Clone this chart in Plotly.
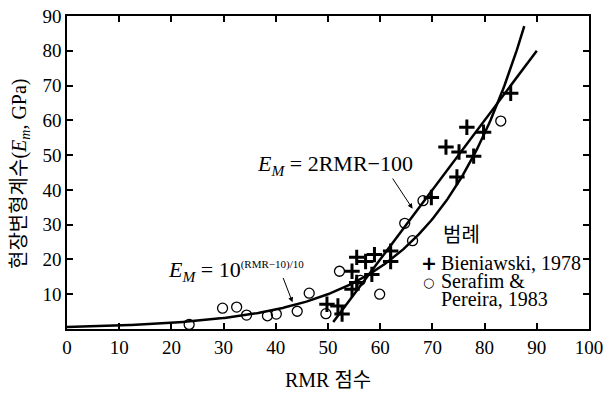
import numpy as np
import plotly.graph_objects as go

# --- data ---
bien_rmr = [49.8, 51.9, 52.7, 54.6, 54.6, 55.5, 55.5, 57.2, 58.4, 58.9, 62.0, 62.0,
            69.8, 72.6, 74.7, 75.1, 76.6, 77.9, 79.8, 85.0]
bien_em = [7.1, 6.6, 4.3, 11.4, 16.6, 13.4, 20.6, 19.4, 15.7, 21.4, 19.4, 22.4,
           37.8, 52.3, 43.7, 50.9, 58.0, 49.7, 56.6, 67.8]

sera_rmr = [23.4, 29.8, 32.5, 34.4, 38.4, 40.1, 44.1, 46.4, 49.6, 52.2, 56.2, 59.9,
            64.7, 66.2, 68.2, 83.1]
sera_em = [1.3, 6.0, 6.3, 4.0, 3.8, 4.3, 5.1, 10.3, 4.4, 16.6, 14.0, 10.0,
           30.4, 25.4, 36.9, 59.8]

# fitted relations shown on the chart
exp_rmr = np.linspace(0, 87.6, 300)
exp_em = 10 ** ((exp_rmr - 10) / 40)
lin_rmr = np.array([51.0, 90.0])
lin_em = 2 * lin_rmr - 100

x_ticks = list(range(0, 101, 10))
y_ticks = list(range(10, 91, 10))

legend_title = "범례"
legend_labels = ["Bieniawski, 1978", "Serafim &", "Pereira, 1983"]

FONT = "Liberation Serif, Noto Sans CJK KR, serif"
BLACK = "black"

# plot-area geometry in pixels (for paper-anchored text)
L, R, T, B = 67, 16, 16, 68
W, H = 605, 397
PW, PH = W - L - R, H - T - B


def px(xp, yp):
    return (xp - L) / PW, (H - B - yp) / PH


fig = go.Figure()
fig.add_trace(go.Scatter(x=exp_rmr, y=exp_em, mode="lines",
                         line=dict(color=BLACK, width=2.5), showlegend=False,
                         hoverinfo="skip"))
fig.add_trace(go.Scatter(x=lin_rmr, y=lin_em, mode="lines",
                         line=dict(color=BLACK, width=2.5), showlegend=False,
                         hoverinfo="skip"))
fig.add_trace(go.Scatter(x=bien_rmr, y=bien_em, mode="markers",
                         name="Bieniawski, 1978", showlegend=False,
                         marker=dict(symbol="cross-thin", size=11, color=BLACK,
                                     line=dict(color=BLACK, width=3))))
fig.add_trace(go.Scatter(x=sera_rmr, y=sera_em, mode="markers",
                         name="Serafim & Pereira, 1983", showlegend=False,
                         marker=dict(symbol="circle-open", size=10, color=BLACK,
                                     line=dict(color=BLACK, width=1.3))))

# equation labels
fig.add_annotation(x=51.3, y=47.2, xref="x", yref="y", showarrow=False,
                   xanchor="center", yanchor="middle",
                   text="<i>E<sub>M</sub></i> = 2RMR−100",
                   font=dict(family=FONT, size=22, color=BLACK))
fig.add_annotation(x=66.2, y=34.6, ax=62.2, ay=43.7, axref="x", ayref="y",
                   text="", showarrow=True, arrowhead=2, arrowsize=1,
                   arrowwidth=1, arrowcolor=BLACK)
fig.add_annotation(x=19.0, y=16.8, xref="x", yref="y", showarrow=False,
                   xanchor="left", yanchor="middle",
                   text="<i>E<sub>M</sub></i> = 10<sup><span style='font-size:11px'>(RMR−10)/10</span></sup>",
                   font=dict(family=FONT, size=22, color=BLACK))
fig.add_annotation(x=43.2, y=7.7, ax=41.3, ay=15.1, axref="x", ayref="y",
                   text="", showarrow=True, arrowhead=2, arrowsize=1,
                   arrowwidth=1, arrowcolor=BLACK)


def note(xp, yp, text, size, family=FONT, xanchor="left", angle=0):
    xx, yy = px(xp, yp)
    fig.add_annotation(x=xx, y=yy, xref="paper", yref="paper", showarrow=False,
                       xanchor=xanchor, yanchor="middle", text=text, textangle=angle,
                       font=dict(family=family, size=size, color=BLACK))


# legend drawn as text
note(441, 235, legend_title, 20)
note(429, 263, "<b>+</b>", 19, family="DejaVu Sans", xanchor="center")
note(439, 263, legend_labels[0], 20)
note(428, 282, "○", 13, family="DejaVu Sans", xanchor="center")
note(439, 281, legend_labels[1], 20)
note(439, 299, legend_labels[2], 20)

# axis titles
note(328, 380, "RMR 점수", 20, xanchor="center")
note(20, 174, "현장변형계수(<i>E<sub>m</sub></i>, GPa)", 20, xanchor="center", angle=-90)

axis_common = dict(showline=True, linecolor=BLACK, linewidth=1.5, mirror="ticks",
                   ticks="inside", ticklen=6, tickwidth=1.5, tickcolor=BLACK,
                   showgrid=False, zeroline=False, automargin=False,
                   tickfont=dict(family=FONT, size=19, color=BLACK))

fig.update_xaxes(range=[0, 100], tickvals=x_ticks, ticktext=[str(v) for v in x_ticks],
                 **axis_common)
fig.update_yaxes(range=[0, 90], tickvals=y_ticks, ticktext=[str(v) for v in y_ticks],
                 **axis_common)

fig.update_layout(
    width=W, height=H,
    margin=dict(l=L, r=R, t=T, b=B),
    plot_bgcolor="white", paper_bgcolor="white",
    font=dict(family=FONT, color=BLACK),
    showlegend=False,
)

fig.write_html("out.html", config={"displayModeBar": False},
               post_script="document.body.style.margin='0';")
